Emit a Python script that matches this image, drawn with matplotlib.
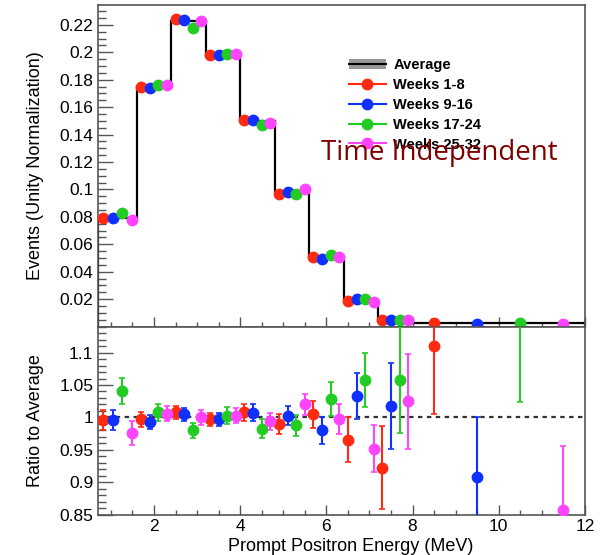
import numpy as np
import matplotlib.pyplot as plt
from matplotlib.lines import Line2D
from matplotlib.patches import Patch
from matplotlib.ticker import MultipleLocator, FormatStrFormatter

plt.rcParams['font.family'] = ['Liberation Sans', 'DejaVu Sans']

# bin edges (MeV)
edges = [0.7, 1.6, 2.4, 3.2, 4.0, 4.8, 5.6, 6.4, 7.2, 8.0, 12.0]
average = [0.0795, 0.1747, 0.2229, 0.1982, 0.1497, 0.0980, 0.0508, 0.0188, 0.0050, 0.0023]

labels = ['Weeks 1-8', 'Weeks 9-16', 'Weeks 17-24', 'Weeks 25-32']
colors = ['#ff2a10', '#1030ff', '#22cc22', '#ff44ff']

# events per period
events = [
    [0.0794, 0.1747, 0.2243, 0.1977, 0.1507, 0.0970, 0.0508, 0.0184, 0.0048, 0.0026],
    [0.0794, 0.1740, 0.2238, 0.1977, 0.1505, 0.0983, 0.0493, 0.0198, 0.0050, 0.0021],
    [0.0830, 0.1765, 0.2180, 0.1989, 0.1470, 0.0970, 0.0520, 0.0203, 0.0051, 0.0026],
    [0.0775, 0.1762, 0.2231, 0.1989, 0.1485, 0.1000, 0.0508, 0.0182, 0.0050, 0.0020],
]

# ratio to average and its error
ratio = [
    [0.996, 0.997, 1.008, 0.997, 1.008, 0.990, 1.005, 0.966, 0.923, 1.110],
    [0.996, 0.993, 1.005, 0.997, 1.007, 1.003, 0.980, 1.033, 1.018, 0.909],
    [1.041, 1.008, 0.980, 1.003, 0.983, 0.988, 1.029, 1.058, 1.058, 1.160],
    [0.976, 1.006, 1.000, 1.003, 0.994, 1.020, 0.998, 0.952, 1.025, 0.857],
]
ratio_err = [
    [0.016, 0.012, 0.010, 0.010, 0.013, 0.015, 0.021, 0.034, 0.064, 0.105],
    [0.016, 0.011, 0.010, 0.010, 0.013, 0.015, 0.021, 0.035, 0.066, 0.091],
    [0.020, 0.013, 0.011, 0.013, 0.014, 0.016, 0.026, 0.042, 0.082, 0.136],
    [0.018, 0.012, 0.011, 0.012, 0.013, 0.016, 0.023, 0.036, 0.073, 0.099],
]

edges = np.array(edges)
lo = edges[:-1]
width = np.diff(edges)

fig = plt.figure(figsize=(6.03, 5.55), dpi=100)
ax1 = fig.add_axes([0.1625, 0.4117, 0.8075, 0.5793])
ax2 = fig.add_axes([0.1625, 0.0721, 0.8075, 0.3396])

frame_col = '#555555'

# top panel
ax1.stairs(average, edges, color='black', lw=1.6, zorder=2)
for i in range(4):
    xs = lo + width * (2 * i + 1) / 8
    ax1.plot(xs, events[i], 'o', color=colors[i], ms=7.5, zorder=3, clip_on=False)
ax1.set_xlim(0.7, 12)
ax1.set_ylim(0, 0.2345)
ax1.set_ylabel('Events (Unity Normalization)', fontsize=13)
ax1.yaxis.set_minor_locator(MultipleLocator(0.005))
ax1.set_yticks(np.arange(0.02, 0.23, 0.02))
ax1.set_yticklabels(['%g' % round(v, 2) for v in np.arange(0.02, 0.23, 0.02)])
ax1.tick_params(labelbottom=False)

handles = [(Patch(color='#999999', lw=0), Line2D([], [], color='black', lw=1.5))]
for c in colors:
    handles.append(Line2D([], [], color=c, lw=1.5, marker='o', ms=7.5))
leg = ax1.legend(handles, ['Average'] + labels, loc='upper left',
                 bbox_to_anchor=(0.5, 0.857), frameon=False, borderpad=0,
                 handlelength=2.55, handletextpad=0.5, labelspacing=0.4,
                 prop={'weight': 'bold', 'size': 10.5})

fig.text(0.533, 0.711, 'Time Independent', color='#800000', fontsize=20,
         family=['Open Sans', 'DejaVu Sans'])

# ratio panel
ax2.axhline(1.0, color='#333333', ls=(0, (2, 2)), lw=1.6, zorder=1)
for i in range(4):
    xs = lo + width * (2 * i + 1) / 8
    ax2.errorbar(xs, ratio[i], yerr=ratio_err[i], fmt='o', color=colors[i],
                 ms=7.5, elinewidth=1.5, capsize=2, capthick=1.2, zorder=3)
ax2.set_xlim(0.7, 12)
ax2.set_ylim(0.85, 1.14)
ax2.set_xlabel('Prompt Positron Energy (MeV)', fontsize=13)
ax2.xaxis.set_label_coords(0.52, -0.122)
ax2.set_ylabel('Ratio to Average', fontsize=13)
ax2.yaxis.set_major_locator(MultipleLocator(0.05))
ax2.yaxis.set_minor_locator(MultipleLocator(0.01))
ax2.yaxis.set_major_formatter(FormatStrFormatter('%g'))

for ax in (ax1, ax2):
    ax.xaxis.set_major_locator(MultipleLocator(2))
    ax.xaxis.set_minor_locator(MultipleLocator(0.5))
    ax.tick_params(which='both', direction='in', colors=frame_col,
                   labelcolor='black', labelsize=12.5)
    ax.tick_params(axis='y', which='major', length=11, width=1)
    ax.tick_params(axis='y', which='minor', length=6, width=1)
    ax.tick_params(axis='x', which='major', length=7, width=1)
    ax.tick_params(axis='x', which='minor', length=3.5, width=1)
    for s in ax.spines.values():
        s.set_color(frame_col)
        s.set_linewidth(1.2)
    ax.yaxis.set_label_coords(-0.11, 0.5)

ax2.set_xticks(np.arange(2, 13, 2))
ax2.set_xticklabels([str(v) for v in range(2, 13, 2)])
ax2.tick_params(axis='x', pad=3)

fig.savefig('out.png', dpi=100)
